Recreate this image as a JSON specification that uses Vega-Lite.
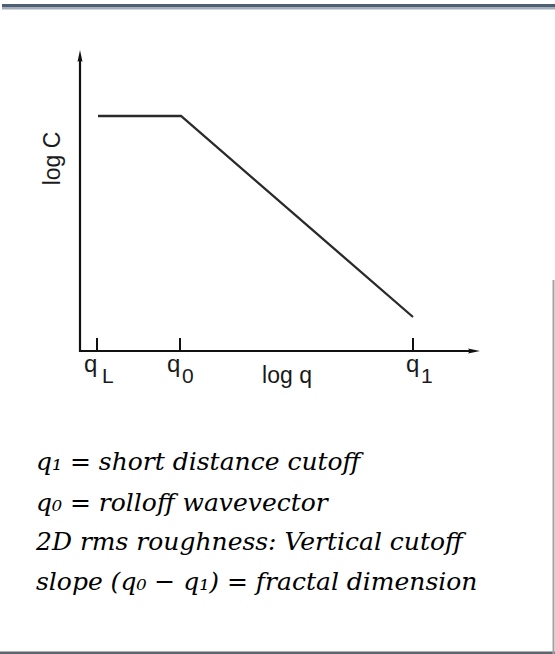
{
  "$schema": "https://vega.github.io/schema/vega-lite/v6.json",
  "width": 555,
  "height": 654,
  "padding": 0,
  "autosize": {"type": "none"},
  "background": "#ffffff",
  "config": {"view": {"stroke": null}},
  "datasets": {
    "topDark": [{"x": 2, "x2": 555, "y": 646.5, "y2": 650}],
    "topLight": [{"x": 2, "x2": 555, "y": 644.5, "y2": 646.5}],
    "bottomEdge": [{"x": 0, "x2": 555, "y": 0, "y2": 2.5}],
    "rightEdge": [{"x": 552.5, "x2": 554.5, "y": 0, "y2": 374}],
    "axes": [
      {"x": 80, "y": 302, "x2": 80, "y2": 594},
      {"x": 79, "y": 303, "x2": 472, "y2": 303}
    ],
    "arrowUp": [{"x": 80, "y": 598}],
    "arrowRight": [{"x": 474, "y": 303}],
    "ticks": [
      {"x": 97, "y": 303, "y2": 316},
      {"x": 180, "y": 303, "y2": 316},
      {"x": 413, "y": 303, "y2": 316}
    ],
    "spectrum": [
      {"logq": 98, "logC": 538, "o": 1},
      {"logq": 181, "logC": 538, "o": 2},
      {"logq": 413, "logC": 337, "o": 3}
    ],
    "tickMain": [
      {"x": 84, "y": 282, "t": "q"},
      {"x": 167, "y": 282, "t": "q"},
      {"x": 406, "y": 282, "t": "q"}
    ],
    "tickSub": [
      {"x": 102, "y": 271, "t": "L"},
      {"x": 182, "y": 271, "t": "0"},
      {"x": 421, "y": 271, "t": "1"}
    ],
    "xTitle": [{"x": 287, "y": 271, "t": "log q"}],
    "yTitle": [{"x": 60, "y": 495.5, "t": "log C"}],
    "notes": [
      {"x": 36, "y": 184, "t": "q₁ = short distance cutoff"},
      {"x": 36, "y": 143, "t": "q₀ = rolloff wavevector"},
      {"x": 36, "y": 104, "t": "2D rms roughness: Vertical cutoff"},
      {"x": 36, "y": 64, "t": "slope (q₀ − q₁) = fractal dimension"}
    ]
  },
  "encoding": {
    "x": {"type": "quantitative", "scale": {"domain": [0, 555], "nice": false, "zero": false}, "axis": null},
    "y": {"type": "quantitative", "scale": {"domain": [0, 654], "nice": false, "zero": false}, "axis": null}
  },
  "layer": [
    {
      "data": {"name": "topDark"},
      "mark": {"type": "rect", "color": "#4e5f75", "clip": false},
      "encoding": {"x": {"field": "x"}, "x2": {"field": "x2"}, "y": {"field": "y"}, "y2": {"field": "y2"}}
    },
    {
      "data": {"name": "topLight"},
      "mark": {"type": "rect", "color": "#a3adba", "clip": false},
      "encoding": {"x": {"field": "x"}, "x2": {"field": "x2"}, "y": {"field": "y"}, "y2": {"field": "y2"}}
    },
    {
      "data": {"name": "bottomEdge"},
      "mark": {"type": "rect", "color": "#5f656d", "clip": false},
      "encoding": {"x": {"field": "x"}, "x2": {"field": "x2"}, "y": {"field": "y"}, "y2": {"field": "y2"}}
    },
    {
      "data": {"name": "rightEdge"},
      "mark": {"type": "rect", "color": "#a0a4aa", "clip": false},
      "encoding": {"x": {"field": "x"}, "x2": {"field": "x2"}, "y": {"field": "y"}, "y2": {"field": "y2"}}
    },
    {
      "data": {"name": "axes"},
      "mark": {"type": "rule", "color": "#111111", "strokeWidth": 2.2},
      "encoding": {"x": {"field": "x"}, "y": {"field": "y"}, "x2": {"field": "x2"}, "y2": {"field": "y2"}}
    },
    {
      "data": {"name": "ticks"},
      "mark": {"type": "rule", "color": "#111111", "strokeWidth": 2},
      "encoding": {"x": {"field": "x"}, "y": {"field": "y"}, "y2": {"field": "y2"}}
    },
    {
      "data": {"name": "arrowUp"},
      "mark": {"type": "point", "filled": true, "color": "#111111", "opacity": 1, "size": 144, "shape": "M0,-1L0.42,1L0,0.7L-0.42,1Z"},
      "encoding": {"x": {"field": "x"}, "y": {"field": "y"}}
    },
    {
      "data": {"name": "arrowRight"},
      "mark": {"type": "point", "filled": true, "color": "#111111", "opacity": 1, "size": 144, "shape": "M1,0L-1,0.42L-0.7,0L-1,-0.42Z"},
      "encoding": {"x": {"field": "x"}, "y": {"field": "y"}}
    },
    {
      "data": {"name": "spectrum"},
      "mark": {"type": "line", "color": "#2a2a2a", "strokeWidth": 2.3},
      "encoding": {"x": {"field": "logq"}, "y": {"field": "logC"}, "order": {"field": "o"}}
    },
    {
      "data": {"name": "tickMain"},
      "mark": {"type": "text", "align": "left", "baseline": "alphabetic", "font": "Liberation Sans", "fontSize": 24, "color": "#1a1a1a"},
      "encoding": {"x": {"field": "x"}, "y": {"field": "y"}, "text": {"field": "t"}}
    },
    {
      "data": {"name": "tickSub"},
      "mark": {"type": "text", "align": "left", "baseline": "alphabetic", "font": "Liberation Sans", "fontSize": 21, "color": "#1a1a1a"},
      "encoding": {"x": {"field": "x"}, "y": {"field": "y"}, "text": {"field": "t"}}
    },
    {
      "data": {"name": "xTitle"},
      "mark": {"type": "text", "align": "center", "baseline": "alphabetic", "font": "Liberation Sans", "fontSize": 23, "color": "#1a1a1a"},
      "encoding": {"x": {"field": "x"}, "y": {"field": "y"}, "text": {"field": "t"}}
    },
    {
      "data": {"name": "yTitle"},
      "mark": {"type": "text", "align": "center", "baseline": "alphabetic", "angle": 270, "font": "Liberation Sans", "fontSize": 23, "color": "#1a1a1a"},
      "encoding": {"x": {"field": "x"}, "y": {"field": "y"}, "text": {"field": "t"}}
    },
    {
      "data": {"name": "notes"},
      "mark": {"type": "text", "align": "left", "baseline": "alphabetic", "font": "DejaVu Serif", "fontStyle": "italic", "fontSize": 25, "color": "#000000"},
      "encoding": {"x": {"field": "x"}, "y": {"field": "y"}, "text": {"field": "t"}}
    }
  ]
}
